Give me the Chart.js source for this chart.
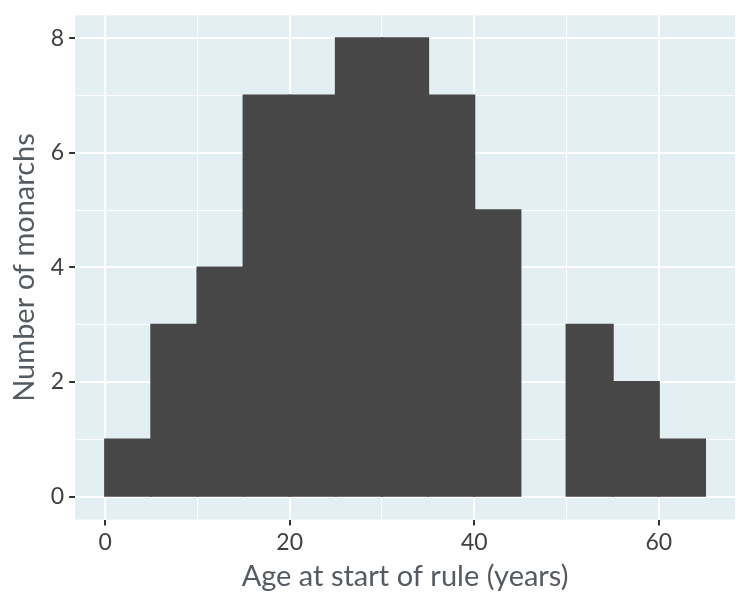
<!DOCTYPE html>
<html>
<head>
<meta charset="utf-8">
<script src="https://cdn.jsdelivr.net/npm/chart.js@4"></script>
<style>
html,body{margin:0;padding:0;background:#fff;}
#wrap{width:750px;height:600px;position:relative;}
</style>
</head>
<body>
<div id="wrap"><canvas id="c" width="750" height="600"></canvas></div>
<script>
const binStarts = [0,5,10,15,20,25,30,35,40,45,50,55,60];
const binWidth = 5;
const counts = [1,3,4,7,7,8,8,7,5,0,3,2,1];
const xTicks = [0,10,20,30,40,50,60];
const xLabels = [0,20,40,60];
const yTicks = [0,1,2,3,4,5,6,7,8];
const yLabels = [0,2,4,6,8];
const xTitle = 'Age at start of rule (years)';
const yTitle = 'Number of monarchs';

const bg = '#e4eff4';
const FONT = 'Lato, "Noto Sans", sans-serif';

const panelBg = {
  id:'panelBg',
  beforeDraw(chart){
    const {ctx, chartArea:a} = chart;
    ctx.save(); ctx.fillStyle = bg;
    ctx.fillRect(a.left, a.top, a.right-a.left, a.bottom-a.top);
    ctx.restore();
  }
};

const points = binStarts.map((s,i)=>({x: s + binWidth/2, y: counts[i]}));

new Chart(document.getElementById('c'), {
  type:'bar',
  data:{datasets:[{data:points,
    backgroundColor:c=>(c.raw && c.raw.y===0)?'rgba(0,0,0,0)':'#474747', borderWidth:0,
    inflateAmount:1,
    barPercentage:1, categoryPercentage:1}]},
  options:{
    responsive:false, animation:false,
    layout:{padding:{top:4,right:15,left:3,bottom:0}},
    plugins:{legend:{display:false}, tooltip:{enabled:false}},
    scales:{
      x:{type:'linear', min:-3.25, max:68.25, offset:false,
        afterBuildTicks(s){ s.ticks = xTicks.map(v=>({value:v})); },
        grid:{offset:false, color:'#ffffff', lineWidth:c=>xLabels.includes(c.tick&&c.tick.value)?2:1,
          drawTicks:true, tickLength:6, tickWidth:2,
          tickColor:c=>xLabels.includes(c.tick&&c.tick.value)?'#333':'rgba(0,0,0,0)'},
        border:{display:false},
        ticks:{padding:3, color:'#404040', font:{family:FONT,size:23}, maxRotation:0, autoSkip:false,
          callback:v=>xLabels.includes(v)?String(v):''},
        title:{display:true, text:xTitle, color:'#555b60', font:{family:FONT,size:29}, padding:{top:0,bottom:6}}
      },
      y:{type:'linear', min:-0.4, max:8.4,
        afterBuildTicks(s){ s.ticks = yTicks.map(v=>({value:v})); },
        grid:{offset:false, color:'#ffffff', lineWidth:c=>yLabels.includes(c.tick&&c.tick.value)?2:1,
          drawTicks:true, tickLength:6, tickWidth:2,
          tickColor:c=>yLabels.includes(c.tick&&c.tick.value)?'#333':'rgba(0,0,0,0)'},
        border:{display:false},
        ticks:{padding:5, color:'#404040', font:{family:FONT,size:23,lineHeight:0.9}, autoSkip:false,
          callback:v=>yLabels.includes(v)?String(v):''},
        title:{display:true, text:yTitle, color:'#555b60', font:{family:FONT,size:29}, padding:{top:4,bottom:4}}
      }
    }
  },
  plugins:[panelBg]
});
</script>
</body>
</html>
